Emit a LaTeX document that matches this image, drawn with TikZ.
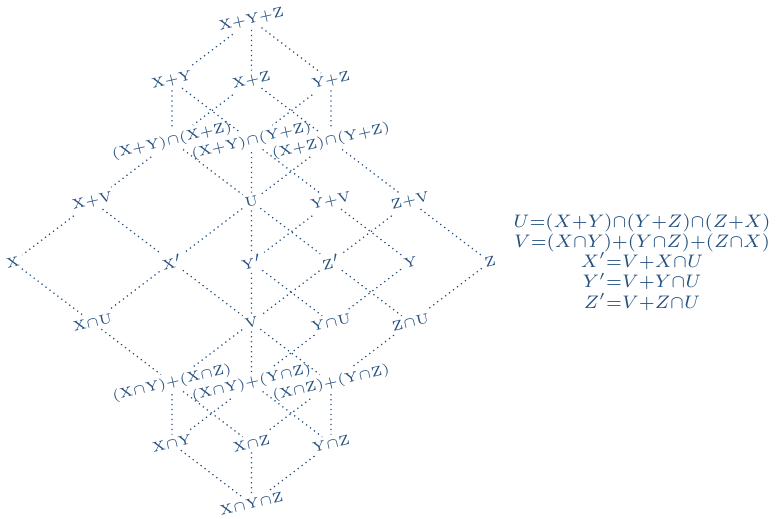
\documentclass[tikz,border=0pt]{standalone}
\usepackage{tikz}
\definecolor{lat}{RGB}{36,80,128}
\newcommand\lbtxt[1]{$\scriptscriptstyle\mathrm{#1}$}
\newcommand\frmtxt[1]{\scalebox{0.94}{$\scriptstyle #1$}}
\begin{document}
\begin{tikzpicture}[x=0.3627pt,y=-0.3627pt,
  lbl/.style={text=lat, rotate=13, inner sep=1.2pt},
  edge/.style={draw=lat, line width=0.45pt, dash pattern=on 0.45pt off 1.35pt},
  frm/.style={text=lat, inner sep=0pt, anchor=base}]
\useasboundingbox (0,0) rectangle (780,518);
% row 0
\node[lbl] (top) at (251.5,20) {\lbtxt{X+Y+Z}};
% row 1
\node[lbl] (xy) at (172,80.5) {\lbtxt{X+Y}};
\node[lbl] (xz) at (251.5,80.5) {\lbtxt{X+Z}};
\node[lbl] (yz) at (331,80.5) {\lbtxt{Y+Z}};
% row 2
\node[lbl] (a1) at (172,141) {\lbtxt{(X+Y)\cap(X+Z)}};
\node[lbl] (a2) at (251.5,141) {\lbtxt{(X+Y)\cap(Y+Z)}};
\node[lbl] (a3) at (331,141) {\lbtxt{(X+Z)\cap(Y+Z)}};
% row 3
\node[lbl] (xv) at (92.5,201.5) {\lbtxt{X+V}};
\node[lbl] (u) at (251.5,201.5) {\lbtxt{U}};
\node[lbl] (yv) at (331,201.5) {\lbtxt{Y+V}};
\node[lbl] (zv) at (410.5,201.5) {\lbtxt{Z+V}};
% row 4
\node[lbl] (x) at (13,262) {\lbtxt{X}};
\node[lbl] (xp) at (172,262) {\lbtxt{X'}};
\node[lbl] (yp) at (251.5,262) {\lbtxt{Y'}};
\node[lbl] (zp) at (331,262) {\lbtxt{Z'}};
\node[lbl] (y) at (410.5,262) {\lbtxt{Y}};
\node[lbl] (z) at (490,262) {\lbtxt{Z}};
% row 5
\node[lbl] (xu) at (92.5,322.5) {\lbtxt{X\cap U}};
\node[lbl] (v) at (251.5,322.5) {\lbtxt{V}};
\node[lbl] (yu) at (331,322.5) {\lbtxt{Y\cap U}};
\node[lbl] (zu) at (410.5,322.5) {\lbtxt{Z\cap U}};
% row 6
\node[lbl] (b1) at (172,383) {\lbtxt{(X\cap Y)+(X\cap Z)}};
\node[lbl] (b2) at (251.5,383) {\lbtxt{(X\cap Y)+(Y\cap Z)}};
\node[lbl] (b3) at (331,383) {\lbtxt{(X\cap Z)+(Y\cap Z)}};
% row 7
\node[lbl] (xny) at (172,443.5) {\lbtxt{X\cap Y}};
\node[lbl] (xnz) at (251.5,443.5) {\lbtxt{X\cap Z}};
\node[lbl] (ynz) at (331,443.5) {\lbtxt{Y\cap Z}};
% row 8
\node[lbl] (bot) at (251.5,504) {\lbtxt{X\cap Y\cap Z}};
% edges
\draw[edge] (top) -- (xy);
\draw[edge] (top) -- (xz);
\draw[edge] (top) -- (yz);
\draw[edge] (xy) -- (a1);
\draw[edge] (xy) -- (a2);
\draw[edge] (xz) -- (a1);
\draw[edge] (xz) -- (a3);
\draw[edge] (yz) -- (a2);
\draw[edge] (yz) -- (a3);
\draw[edge] (a1) -- (xv);
\draw[edge] (a1) -- (u);
\draw[edge] (a2) -- (u);
\draw[edge] (a2) -- (yv);
\draw[edge] (a3) -- (u);
\draw[edge] (a3) -- (zv);
\draw[edge] (xv) -- (x);
\draw[edge] (xv) -- (xp);
\draw[edge] (u) -- (xp);
\draw[edge] (u) -- (yp);
\draw[edge] (u) -- (zp);
\draw[edge] (yv) -- (yp);
\draw[edge] (yv) -- (y);
\draw[edge] (zv) -- (zp);
\draw[edge] (zv) -- (z);
\draw[edge] (x) -- (xu);
\draw[edge] (xp) -- (xu);
\draw[edge] (xp) -- (v);
\draw[edge] (yp) -- (v);
\draw[edge] (yp) -- (yu);
\draw[edge] (zp) -- (v);
\draw[edge] (zp) -- (zu);
\draw[edge] (y) -- (yu);
\draw[edge] (z) -- (zu);
\draw[edge] (xu) -- (b1);
\draw[edge] (v) -- (b1);
\draw[edge] (v) -- (b2);
\draw[edge] (v) -- (b3);
\draw[edge] (yu) -- (b2);
\draw[edge] (zu) -- (b3);
\draw[edge] (b1) -- (xny);
\draw[edge] (b1) -- (xnz);
\draw[edge] (b2) -- (xny);
\draw[edge] (b2) -- (ynz);
\draw[edge] (b3) -- (xnz);
\draw[edge] (b3) -- (ynz);
\draw[edge] (xny) -- (bot);
\draw[edge] (xnz) -- (bot);
\draw[edge] (ynz) -- (bot);
% formulas
\node[frm] (f1) at (642,227) {\frmtxt{U=(X+Y)\cap(Y+Z)\cap(Z+X)}};
\node[frm] (f2) at (642,247.3) {\frmtxt{V=(X\cap Y)+(Y\cap Z)+(Z\cap X)}};
\node[frm] (f3) at (642,267.6) {\frmtxt{X'=V+X\cap U}};
\node[frm] (f4) at (642,287.9) {\frmtxt{Y'=V+Y\cap U}};
\node[frm] (f5) at (642,308.2) {\frmtxt{Z'=V+Z\cap U}};
\end{tikzpicture}
\end{document}
